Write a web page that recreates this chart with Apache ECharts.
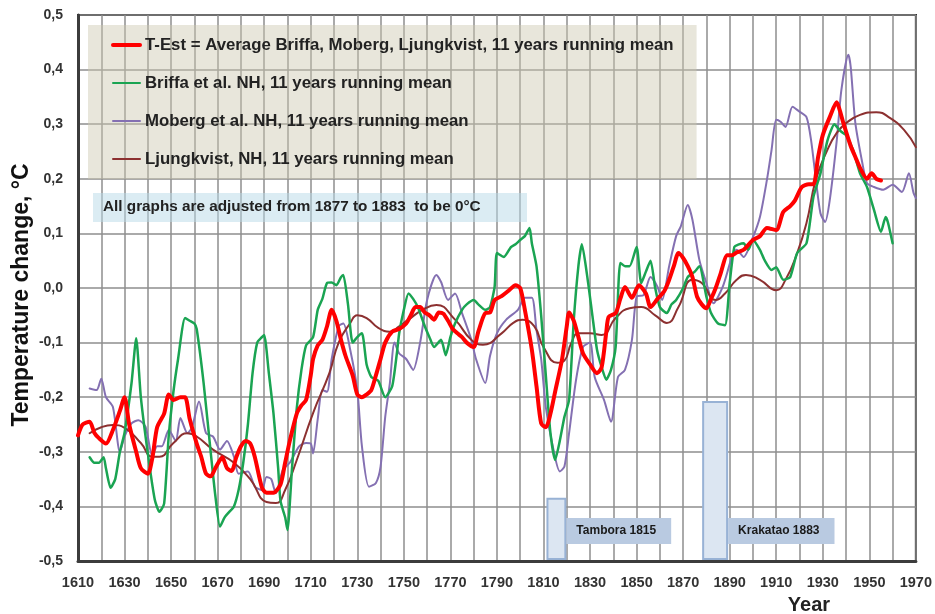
<!DOCTYPE html>
<html>
<head>
<meta charset="utf-8">
<script src="https://cdn.jsdelivr.net/npm/echarts@6/dist/echarts.min.js"></script>
<style>
  html, body { margin: 0; padding: 0; background: #fff; }
  #chart { width: 935px; height: 614px; }
</style>
</head>
<body>
<div id="chart"></div>
<script>
// Northern-hemisphere temperature reconstructions, 11-year running means (°C, relative to 1877-1883)
const tEstYears = [1610,1612,1615,1617,1619,1622,1625,1628,1630,1632,1635,1637,1640,1642,1644,1647,1649,1651,1654,1656,1658,1661,1663,1665,1667,1669,1672,1674,1676,1678,1680,1682,1684,1686,1689,1691,1694,1697,1699,1701,1704,1706,1708,1710,1711,1713,1715,1717,1719,1721,1723,1725,1728,1730,1732,1734,1736,1738,1740,1742,1745,1748,1751,1753,1755,1757,1759,1761,1763,1765,1767,1769,1771,1773,1775,1777,1780,1782,1785,1787,1789,1792,1795,1798,1800,1802,1805,1807,1809,1811,1813,1815,1818,1820,1821,1823,1825,1827,1830,1833,1835,1837,1838,1841,1843,1845,1848,1851,1854,1856,1859,1862,1864,1866,1868,1870,1872,1874,1876,1878,1880,1882,1884,1886,1889,1891,1893,1896,1900,1903,1906,1910,1913,1916,1918,1921,1924,1926,1928,1930,1933,1936,1937,1939,1942,1944,1946,1949,1951,1953,1955];
const tEstValues = [-0.27,-0.25,-0.245,-0.265,-0.275,-0.285,-0.26,-0.225,-0.2,-0.25,-0.3,-0.33,-0.34,-0.31,-0.255,-0.23,-0.195,-0.205,-0.2,-0.2,-0.24,-0.285,-0.31,-0.34,-0.345,-0.33,-0.31,-0.33,-0.335,-0.31,-0.29,-0.28,-0.285,-0.31,-0.365,-0.375,-0.375,-0.36,-0.32,-0.28,-0.23,-0.215,-0.205,-0.16,-0.13,-0.105,-0.095,-0.07,-0.04,-0.06,-0.095,-0.125,-0.16,-0.195,-0.2,-0.195,-0.187,-0.16,-0.13,-0.1,-0.08,-0.075,-0.065,-0.05,-0.035,-0.035,-0.045,-0.05,-0.058,-0.045,-0.047,-0.06,-0.075,-0.083,-0.09,-0.1,-0.108,-0.08,-0.046,-0.045,-0.022,-0.015,-0.005,0.005,0.0,-0.04,-0.113,-0.18,-0.248,-0.255,-0.23,-0.19,-0.13,-0.07,-0.045,-0.06,-0.09,-0.12,-0.14,-0.156,-0.145,-0.08,-0.053,-0.046,-0.02,0.002,-0.018,0.005,-0.01,-0.035,-0.02,-0.005,0.015,0.04,0.064,0.055,0.04,0.02,-0.016,-0.03,-0.037,-0.02,0.0,0.025,0.06,0.06,0.065,0.07,0.088,0.095,0.11,0.106,0.139,0.15,0.16,0.185,0.19,0.19,0.24,0.28,0.313,0.34,0.33,0.3,0.26,0.24,0.22,0.2,0.21,0.2,0.197];

const briffaYears = [1615,1617,1619,1621,1622,1624,1626,1628,1630,1633,1635,1637,1640,1643,1645,1647,1649,1651,1653,1656,1658,1660,1661,1664,1667,1669,1671,1673,1675,1677,1679,1681,1683,1685,1687,1689,1690,1692,1694,1696,1697,1699,1700,1702,1704,1706,1708,1711,1713,1715,1717,1719,1721,1723,1724,1726,1728,1730,1732,1734,1736,1739,1742,1745,1747,1748,1750,1752,1754,1756,1759,1761,1763,1766,1768,1770,1772,1775,1777,1780,1782,1785,1787,1789,1790,1793,1796,1798,1800,1802,1804,1805,1807,1809,1811,1813,1815,1817,1819,1821,1823,1825,1826.5,1829,1831,1833,1835,1837,1839,1841,1843,1845,1847,1850,1852,1854,1856,1858,1860,1863,1865,1867,1870,1872,1875,1877,1880,1882,1885,1888,1890,1892,1894,1896,1898,1900,1903,1905,1908,1910,1913,1916,1919,1923,1926,1929,1932,1935,1937,1938,1940,1943,1946,1949,1952,1955,1957,1958,1960];
const briffaValues = [-0.31,-0.32,-0.32,-0.31,-0.33,-0.366,-0.35,-0.3,-0.265,-0.174,-0.092,-0.2,-0.303,-0.388,-0.41,-0.395,-0.27,-0.19,-0.13,-0.055,-0.06,-0.065,-0.075,-0.175,-0.3,-0.38,-0.437,-0.42,-0.41,-0.4,-0.37,-0.32,-0.25,-0.156,-0.1,-0.09,-0.086,-0.156,-0.23,-0.33,-0.39,-0.42,-0.443,-0.327,-0.22,-0.15,-0.105,-0.09,-0.04,-0.02,0.009,0.01,0.005,0.02,0.024,-0.03,-0.1,-0.09,-0.083,-0.14,-0.163,-0.17,-0.2,-0.18,-0.12,-0.083,-0.04,-0.01,-0.02,-0.035,-0.07,-0.09,-0.108,-0.095,-0.123,-0.09,-0.065,-0.04,-0.03,-0.022,-0.03,-0.04,-0.035,0.002,0.064,0.057,0.075,0.08,0.088,0.095,0.11,0.082,0.04,-0.05,-0.16,-0.266,-0.315,-0.28,-0.236,-0.205,-0.06,0.04,0.08,0.015,-0.05,-0.113,-0.145,-0.168,-0.15,-0.108,0.046,0.04,0.04,0.075,0.009,0.03,0.05,0.0,-0.035,-0.046,-0.03,-0.022,0.0,0.02,0.03,0.04,-0.016,-0.046,-0.065,-0.068,0.009,0.075,0.08,0.082,0.07,0.088,0.07,0.051,0.033,0.038,0.015,0.02,0.064,0.082,0.167,0.21,0.27,0.3,0.29,0.286,0.28,0.253,0.21,0.185,0.143,0.103,0.13,0.12,0.082];

const mobergYears = [1615,1618,1620,1622,1625,1628,1630,1633,1636,1639,1642,1644,1646,1649,1652,1654,1657,1659,1662,1665,1668,1671,1674,1677,1679,1683,1686,1689,1691,1693,1695,1698,1701,1705,1708,1710,1711,1713,1715,1717,1719,1722,1724,1727,1730,1732,1735,1738,1740,1742,1744,1746,1748,1751,1754,1757,1760,1764,1766,1769,1772,1775,1779,1781,1785,1787,1790,1794,1799,1802,1805,1807,1809,1811,1814,1817,1819,1821,1824,1827,1830,1832,1836,1839,1842,1845,1848,1850,1853,1856,1859,1861,1864,1867,1869,1872,1874,1877,1880,1883,1887,1891,1893,1896,1900,1903,1906,1908,1910,1912,1914,1917,1920,1923,1925,1927,1929,1931,1933,1936,1938,1941,1942,1944,1947,1949,1952,1956,1960,1964,1967,1969,1970];
const mobergValues = [-0.184,-0.187,-0.166,-0.2,-0.218,-0.3,-0.272,-0.248,-0.242,-0.254,-0.309,-0.29,-0.29,-0.26,-0.28,-0.238,-0.266,-0.255,-0.208,-0.266,-0.272,-0.296,-0.28,-0.309,-0.34,-0.336,-0.364,-0.37,-0.346,-0.35,-0.376,-0.333,-0.32,-0.29,-0.284,-0.285,-0.303,-0.24,-0.187,-0.19,-0.13,-0.07,-0.065,-0.114,-0.187,-0.29,-0.364,-0.357,-0.327,-0.236,-0.174,-0.1,-0.12,-0.13,-0.15,-0.1,-0.022,0.024,0.011,-0.022,-0.01,-0.046,-0.095,-0.13,-0.174,-0.125,-0.083,-0.058,-0.04,-0.018,-0.018,-0.077,-0.13,-0.218,-0.29,-0.336,-0.327,-0.266,-0.168,-0.108,-0.1,-0.163,-0.205,-0.245,-0.163,-0.15,-0.095,-0.016,-0.013,0.02,0.002,-0.022,0.04,0.095,0.113,0.152,0.125,0.051,0.009,-0.028,0.002,0.057,0.07,0.057,0.093,0.13,0.198,0.253,0.308,0.304,0.295,0.332,0.323,0.313,0.27,0.2,0.137,0.121,0.161,0.27,0.363,0.427,0.405,0.302,0.229,0.192,0.185,0.18,0.189,0.176,0.21,0.174,0.165];

const ljungkvistYears = [1615,1620,1625,1630,1637,1642,1645,1651,1657,1661,1668,1677,1684,1691,1695,1699,1704,1711,1718,1722,1727,1730,1734,1739,1744,1748,1752,1758,1764,1772,1779,1784,1792,1797,1801,1806,1810,1816,1819,1822,1825,1830,1835,1841,1847,1852,1858,1863,1868,1874,1878,1884,1888,1893,1897,1903,1910,1914,1919,1923,1927,1932,1936,1940,1946,1953,1959,1965,1970];
const ljungkvistValues = [-0.266,-0.255,-0.251,-0.256,-0.284,-0.309,-0.309,-0.284,-0.266,-0.272,-0.296,-0.32,-0.35,-0.392,-0.394,-0.37,-0.315,-0.229,-0.156,-0.1,-0.064,-0.05,-0.055,-0.073,-0.08,-0.07,-0.058,-0.04,-0.031,-0.058,-0.095,-0.104,-0.083,-0.064,-0.058,-0.07,-0.108,-0.137,-0.133,-0.1,-0.083,-0.083,-0.086,-0.055,-0.037,-0.035,-0.05,-0.064,-0.035,0.015,0.009,-0.022,-0.01,0.015,0.024,0.015,-0.004,0.015,0.064,0.119,0.198,0.253,0.284,0.302,0.317,0.322,0.311,0.289,0.258];

// Volcanic eruptions marked along the bottom of the plot
const volcanoNames = ['Tambora 1815', 'Krakatao 1883'];
const volcanoFrom = [1811.7, 1878.6];
const volcanoTo = [1819.4, 1888.9];
const volcanoTop = [-0.386, -0.209];

const seriesNames = [
  'T-Est = Average Briffa, Moberg, Ljungkvist, 11 years running mean',
  'Briffa et al. NH, 11 years running mean',
  'Moberg et al. NH, 11 years running mean',
  'Ljungkvist, NH, 11 years running mean'
];
const noteText = 'All graphs are adjusted from 1877 to 1883  to be 0°C';

const FONT = '"Liberation Sans", Arial, sans-serif';
const pairs = (xs, ys) => xs.map((x, i) => [x, ys[i]]);

const chart = echarts.init(document.getElementById('chart'), null, { renderer: 'canvas' });

function lineSeries(name, xs, ys, color, width, smooth) {
  return {
    name, type: 'line', data: pairs(xs, ys),
    symbol: 'none', smooth,
    lineStyle: { color, width, cap: 'round', join: 'round' },
    itemStyle: { color },
    emphasis: { disabled: true },
    animation: false
  };
}

chart.setOption({
  animation: false,
  backgroundColor: '#ffffff',
  grid: {
    left: 78, right: 18, top: 15, bottom: 53,
    show: true, borderColor: '#111', borderWidth: 2, backgroundColor: 'transparent'
  },
  xAxis: {
    type: 'value', min: 1610, max: 1970, interval: 10,
    axisLine: { show: true, onZero: false, lineStyle: { color: '#3c3c3c', width: 3 } },
    axisTick: { show: false },
    axisLabel: {
      margin: 14, color: '#333', fontFamily: FONT, fontWeight: 'bold', fontSize: 14.5,
      formatter: v => ((v - 1610) % 20 === 0 ? String(v) : '')
    },
    splitLine: { show: true, lineStyle: { color: '#8e8e8e', width: 1.5 } }
  },
  yAxis: {
    type: 'value', min: -0.5, max: 0.5, interval: 0.1,
    axisLine: { show: true, onZero: false, lineStyle: { color: '#3c3c3c', width: 3 } },
    axisTick: { show: false },
    axisLabel: {
      margin: 15, color: '#333', fontFamily: FONT, fontWeight: 'bold', fontSize: 14,
      formatter: v => {
        const r = Math.round(v * 10) / 10;
        return (Math.abs(r) < 1e-9 ? 0 : r).toFixed(1).replace('.', ',');
      }
    },
    splitLine: { show: true, lineStyle: { color: '#8e8e8e', width: 1.5 } }
  },
  legend: {
    data: seriesNames.map((name, i) => ({ name, lineStyle: { width: i === 0 ? 4 : 2 } })),
    orient: 'vertical',
    left: 88, top: 25,
    padding: [11, 23, 11, 23],
    backgroundColor: 'rgba(205,199,175,0.45)',
    itemWidth: 27, itemHeight: 18, itemGap: 20,
    itemStyle: { opacity: 0, borderWidth: 0 },
    selectedMode: false,
    textStyle: { fontFamily: FONT, fontWeight: 'bold', fontSize: 16.8, color: '#222', lineHeight: 18 }
  },
  graphic: [
    {
      type: 'rect', left: 93, top: 193, z: 5,
      shape: { width: 434, height: 29 },
      style: { fill: 'rgba(183,217,231,0.5)' }
    },
    {
      type: 'text', left: 103, top: 199, z: 6,
      style: { text: noteText, font: 'bold 15.3px ' + FONT, fill: '#222' }
    },
    {
      type: 'text', z: 6, x: 22, y: 295, rotation: Math.PI / 2,
      style: {
        text: 'Temperature change, °C', font: 'bold 23px ' + FONT, fill: '#111',
        textAlign: 'center', textVerticalAlign: 'middle'
      }
    },
    {
      type: 'text', z: 6, x: 809, y: 605,
      style: {
        text: 'Year', font: 'bold 20px ' + FONT, fill: '#222',
        textAlign: 'center', textVerticalAlign: 'middle'
      }
    }
  ],
  series: [
    {
      name: 'volcanoes', type: 'custom', z: 1,
      data: volcanoNames.map((n, i) => [volcanoFrom[i], volcanoTo[i], volcanoTop[i], n]),
      encode: { x: [0, 1], y: 2 },
      renderItem: (params, api) => {
        const p0 = api.coord([api.value(0), api.value(2)]);
        const p1 = api.coord([api.value(1), -0.5]);
        const w = p1[0] - p0[0];
        return {
          type: 'group',
          children: [
            {
              type: 'rect',
              shape: { x: p0[0], y: p0[1], width: w, height: p1[1] - p0[1] - 2 },
              style: { fill: '#dce6f2', stroke: '#98b2d5', lineWidth: 2 }
            },
            {
              type: 'text',
              x: p1[0] + 1, y: p1[1] - 30,
              style: {
                text: volcanoNames[params.dataIndex],
                font: 'bold 12px ' + FONT, fill: '#1a1a1a',
                backgroundColor: '#b9cae1',
                padding: [7, 15, 7, 10],
                textVerticalAlign: 'middle'
              }
            }
          ]
        };
      },
      silent: true, animation: false
    },
    lineSeries(seriesNames[2], mobergYears, mobergValues, '#8470b2', 2, 0.25),
    lineSeries(seriesNames[3], ljungkvistYears, ljungkvistValues, '#8c3030', 2, 0.5),
    lineSeries(seriesNames[1], briffaYears, briffaValues, '#1aa452', 2.5, 0.2),
    lineSeries(seriesNames[0], tEstYears, tEstValues, '#ff0000', 4, 0.25)
  ]
});
</script>
</body>
</html>
